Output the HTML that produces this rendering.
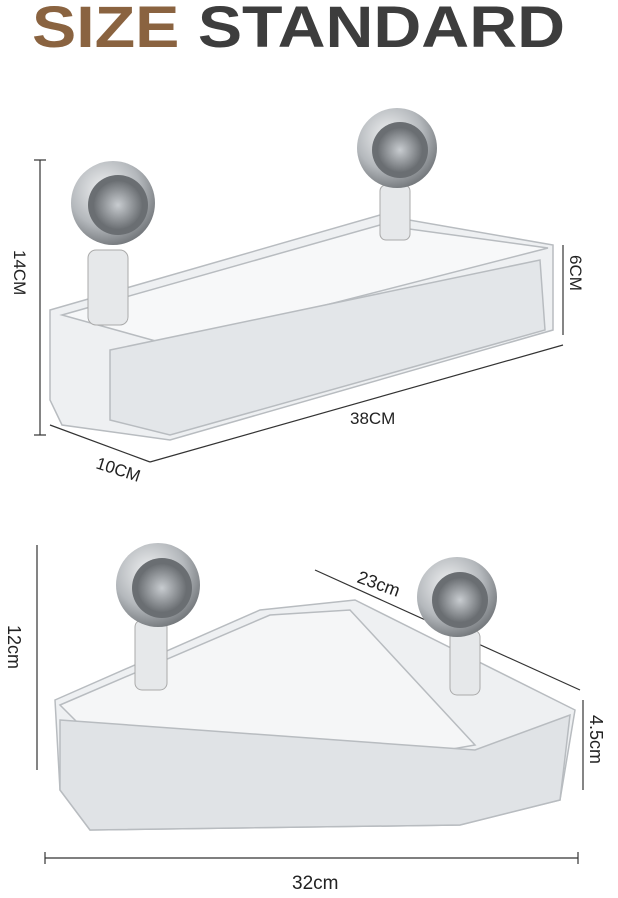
<!DOCTYPE html>
<html><head><style>body{margin:0;background:#fff}svg{display:block}</style></head>
<body>
<svg width="618" height="898" viewBox="0 0 618 898" xmlns="http://www.w3.org/2000/svg" font-family="Liberation Sans, sans-serif">
<defs>
<radialGradient id="cup" cx="0.4" cy="0.35" r="0.7"><stop offset="0" stop-color="#f2f3f4"/><stop offset="0.6" stop-color="#b4b8bc"/><stop offset="1" stop-color="#6e7276"/></radialGradient>
<radialGradient id="hub" cx="0.5" cy="0.5" r="0.6"><stop offset="0" stop-color="#c8ccd0"/><stop offset="1" stop-color="#5a5e62"/></radialGradient>
</defs>
<rect width="618" height="898" fill="#fff"/>
<text x="32" y="47" font-size="58" font-weight="bold" textLength="533" lengthAdjust="spacingAndGlyphs"><tspan fill="#8a6340">SIZE</tspan><tspan fill="#3d3d3d"> STANDARD</tspan></text>
<g stroke="#333" stroke-width="1.2" fill="none">
<line x1="40" y1="160" x2="40" y2="435"/><line x1="34" y1="160" x2="46" y2="160"/><line x1="34" y1="435" x2="46" y2="435"/>
<line x1="563" y1="245" x2="563" y2="335"/>
<line x1="150" y1="462" x2="563" y2="345"/>
<line x1="50" y1="425" x2="150" y2="462"/>
<line x1="37" y1="545" x2="37" y2="770"/>
<line x1="45" y1="858" x2="578" y2="858"/><line x1="45" y1="852" x2="45" y2="864"/><line x1="578" y1="852" x2="578" y2="864"/>
<line x1="315" y1="570" x2="580" y2="690"/>
<line x1="583" y1="700" x2="583" y2="790"/>
</g>
<g fill="#222" font-size="17">
<text x="350" y="424">38CM</text>
<text transform="translate(95,468) rotate(18)">10CM</text>
<text transform="translate(14,250) rotate(90)">14CM</text>
<text transform="translate(570,255) rotate(90)">6CM</text>
<text transform="translate(356,582) rotate(20)" font-size="18">23cm</text>
<text transform="translate(8,625) rotate(90)" font-size="18">12cm</text>
<text transform="translate(590,715) rotate(90)" font-size="18">4.5cm</text>
<text x="292" y="889" font-size="19">32cm</text>
</g>
<g fill="#eef0f2" stroke="#b8bcc0" stroke-width="1.5">
<polygon points="50,310 380,215 553,245 553,330 170,440 62,425 50,400"/>
<polygon points="62,315 380,225 548,248 170,345" fill="#f7f8f9"/>
<polygon points="110,350 540,260 545,330 170,435 110,420" fill="#e3e6e9"/>
</g>
<g>
<rect x="88" y="250" width="40" height="75" rx="8" fill="#e6e8ea" stroke="#aaa"/>
<circle cx="113" cy="203" r="42" fill="url(#cup)"/><circle cx="118" cy="205" r="30" fill="#6a6e72"/><circle cx="118" cy="205" r="24" fill="url(#hub)"/>
<rect x="380" y="185" width="30" height="55" rx="6" fill="#e6e8ea" stroke="#aaa"/>
<circle cx="397" cy="148" r="40" fill="url(#cup)"/><circle cx="400" cy="150" r="28" fill="#6a6e72"/><circle cx="400" cy="150" r="22" fill="url(#hub)"/>
</g>
<g fill="#eef0f2" stroke="#b8bcc0" stroke-width="1.5">
<polygon points="55,700 260,610 355,600 575,710 560,800 460,825 90,830 60,790"/>
<polygon points="60,705 270,615 350,610 475,745 390,760 95,740" fill="#f5f6f7"/>
<polygon points="60,720 475,750 570,715 560,800 460,825 90,830 60,790" fill="#e0e3e6"/>
</g>
<g>
<rect x="135" y="620" width="32" height="70" rx="7" fill="#e6e8ea" stroke="#aaa"/>
<circle cx="158" cy="585" r="42" fill="url(#cup)"/><circle cx="162" cy="588" r="30" fill="#6a6e72"/><circle cx="162" cy="588" r="24" fill="url(#hub)"/>
<rect x="450" y="630" width="30" height="65" rx="7" fill="#e6e8ea" stroke="#aaa"/>
<circle cx="457" cy="597" r="40" fill="url(#cup)"/><circle cx="460" cy="600" r="28" fill="#6a6e72"/><circle cx="460" cy="600" r="22" fill="url(#hub)"/>
</g>
</svg>
</body></html>
